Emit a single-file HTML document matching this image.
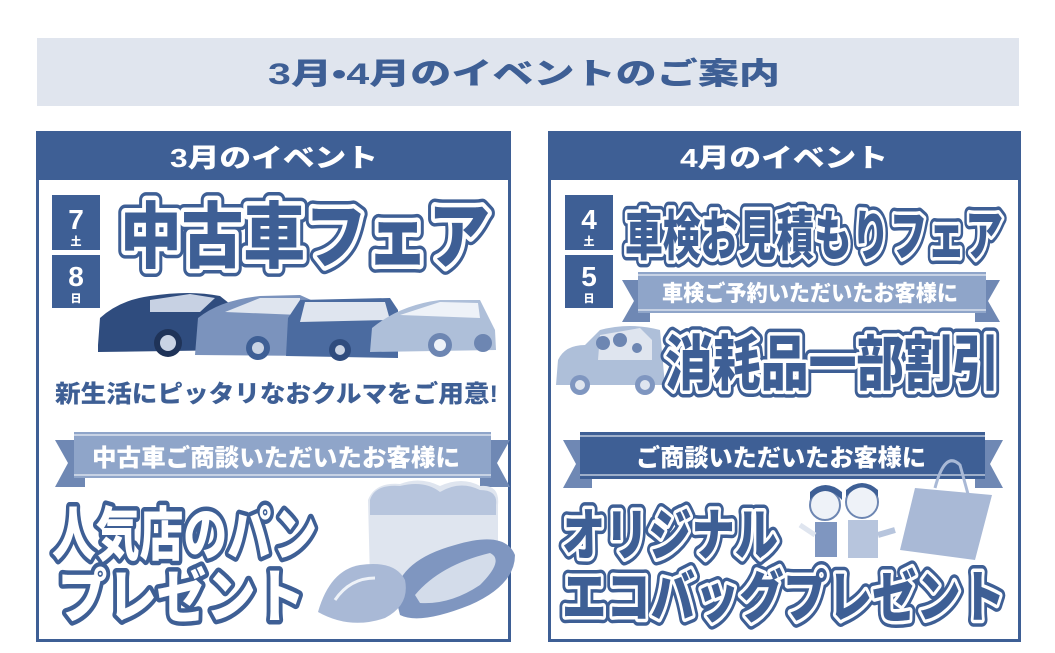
<!DOCTYPE html>
<html><head><meta charset="utf-8">
<style>
html,body{margin:0;padding:0;background:#fff;}
svg{display:block;}
text{font-family:"Liberation Sans","Noto Sans CJK JP",sans-serif;font-weight:900;}
</style></head>
<body>
<svg width="1055" height="653" viewBox="0 0 1055 653" xmlns="http://www.w3.org/2000/svg">
<rect x="37" y="38" width="982" height="68" fill="#e0e5ee"/>
<text x="268" y="84" font-size="30" fill="#3e5f95" textLength="512" lengthAdjust="spacingAndGlyphs">3月•4月のイベントのご案内</text>

<rect x="37.5" y="132.5" width="472" height="508" fill="#fff" stroke="#3e5f95" stroke-width="3"/>
<rect x="36" y="131" width="475" height="49" fill="#3e5f95"/>
<text x="170" y="167" font-size="26" fill="#fff" textLength="208" lengthAdjust="spacingAndGlyphs">3月のイベント</text>

<rect x="549.5" y="132.5" width="470" height="508" fill="#fff" stroke="#3e5f95" stroke-width="3"/>
<rect x="548" y="131" width="473" height="49" fill="#3e5f95"/>
<text x="680" y="167" font-size="26" fill="#fff" textLength="208" lengthAdjust="spacingAndGlyphs">4月のイベント</text>

<g fill="#3e5f95"><rect x="52" y="195" width="48" height="55"/><rect x="52" y="255" width="48" height="53"/>
<rect x="565" y="195" width="48" height="55"/><rect x="565" y="255" width="48" height="53"/></g>
<g fill="#fff" text-anchor="middle">
<text x="76" y="229" font-size="28">7</text><text x="76" y="245" font-size="11">土</text>
<text x="76" y="286" font-size="28">8</text><text x="76" y="302" font-size="11">日</text>
<text x="589" y="229" font-size="28">4</text><text x="589" y="245" font-size="11">土</text>
<text x="589" y="286" font-size="28">5</text><text x="589" y="302" font-size="11">日</text>
</g>

<g font-size="72">
<text x="120" y="262" textLength="370" lengthAdjust="spacingAndGlyphs" fill="#3e5f95" stroke="#3e5f95" stroke-width="16" stroke-linejoin="round">中古車フェア</text>
<text x="120" y="262" textLength="370" lengthAdjust="spacingAndGlyphs" fill="#fff" stroke="#fff" stroke-width="9" stroke-linejoin="round">中古車フェア</text>
<text x="120" y="262" textLength="370" lengthAdjust="spacingAndGlyphs" fill="#3e5f95">中古車フェア</text>
</g>

<g>
<path d="M98,345 L100,318 Q120,300 150,296 Q190,290 220,296 L240,312 L240,350 L98,352Z" fill="#2f4c7e"/>
<circle cx="168" cy="343" r="14" fill="#1f3358"/><circle cx="168" cy="343" r="8" fill="#c9d3e4"/>
<path d="M150,300 L190,294 L215,298 L200,312 L150,312Z" fill="#c7d1e3"/>
<path d="M195,355 L198,318 Q220,300 260,296 L300,295 L322,305 L322,356Z" fill="#7b93bd"/>
<path d="M225,312 L260,298 L300,298 L300,315Z" fill="#dfe5ef"/>
<circle cx="258" cy="348" r="12" fill="#3e5f95"/><circle cx="258" cy="348" r="6" fill="#c9d3e4"/>
<path d="M286,356 L288,318 L300,300 L390,298 L398,310 L398,358Z" fill="#4b6ba0"/>
<path d="M305,302 L385,302 L390,320 L300,322Z" fill="#dfe5ef"/>
<circle cx="340" cy="350" r="11" fill="#2f4c7e"/><circle cx="340" cy="350" r="5" fill="#c9d3e4"/>
<path d="M370,352 L372,328 Q400,305 440,300 L480,300 L495,330 L496,350Z" fill="#aebfd9"/>
<path d="M400,315 L440,302 L478,303 L480,318Z" fill="#eef2f8"/>
<circle cx="440" cy="345" r="12" fill="#6d86b2"/><circle cx="440" cy="345" r="6" fill="#eef2f8"/>
<circle cx="483" cy="343" r="9" fill="#6d86b2"/>
</g>

<text x="55" y="402" font-size="24" fill="#3e5f95" textLength="443" lengthAdjust="spacingAndGlyphs">新生活にピッタリなおクルマをご用意!</text>

<g>
<path d="M55,440 L85,440 L85,487 L55,487 L68,463Z" fill="#6f88b4"/>
<path d="M480,440 L510,440 L497,463 L510,487 L480,487Z" fill="#6f88b4"/>
<rect x="74" y="432" width="417" height="46" fill="#8fa5c9"/>
<line x1="74" y1="435" x2="491" y2="435" stroke="#fff" stroke-width="1"/>
<line x1="74" y1="475" x2="491" y2="475" stroke="#fff" stroke-width="1"/>
<text x="92" y="466" font-size="24" fill="#fff" textLength="368" lengthAdjust="spacingAndGlyphs">中古車ご商談いただいたお客様に</text>
</g>

<g>
<path d="M368,500 Q375,482 400,484 Q420,476 440,486 Q462,476 480,486 Q500,484 498,505 L498,580 L370,580Z" fill="#dfe5ef"/>
<path d="M370,500 Q375,484 400,486 Q425,480 440,492 Q460,480 480,490 Q498,490 496,505 L496,515 L370,515Z" fill="#b7c5dd"/>
<path d="M395,595 Q400,560 455,545 Q505,530 515,555 Q515,585 470,605 Q420,625 400,615Z" fill="#7f96c0"/>
<path d="M415,595 Q440,565 490,553 Q505,560 480,585 Q450,605 420,603Z" fill="#d3dcea"/>
<path d="M318,612 Q330,570 360,565 Q395,560 405,580 Q410,605 385,618 Q350,630 318,612Z" fill="#a9b9d6"/>
<path d="M335,600 Q350,578 375,578" stroke="#eef2f8" stroke-width="3" fill="none"/>
</g>

<g font-size="58" stroke-linejoin="round">
<text x="52" y="555" textLength="265" lengthAdjust="spacingAndGlyphs" fill="#3e5f95" stroke="#3e5f95" stroke-width="9">人気店のパン</text>
<text x="52" y="555" textLength="265" lengthAdjust="spacingAndGlyphs" fill="#fff">人気店のパン</text>
<text x="58" y="617" textLength="247" lengthAdjust="spacingAndGlyphs" fill="#3e5f95" stroke="#3e5f95" stroke-width="9">プレゼント</text>
<text x="58" y="617" textLength="247" lengthAdjust="spacingAndGlyphs" fill="#fff">プレゼント</text>
</g>

<g font-size="54" stroke-linejoin="round">
<text x="625" y="255" textLength="378" lengthAdjust="spacingAndGlyphs" fill="#3e5f95" stroke="#3e5f95" stroke-width="14">車検お見積もりフェア</text>
<text x="625" y="255" textLength="378" lengthAdjust="spacingAndGlyphs" fill="#fff" stroke="#fff" stroke-width="7">車検お見積もりフェア</text>
<text x="625" y="255" textLength="378" lengthAdjust="spacingAndGlyphs" fill="#3e5f95">車検お見積もりフェア</text>
</g>

<g>
<path d="M622,280 L650,280 L650,322 L622,322 L634,301Z" fill="#6f88b4"/>
<path d="M975,280 L1000,280 L988,301 L1000,322 L975,322Z" fill="#6f88b4"/>
<rect x="638" y="272" width="348" height="41" fill="#8fa5c9"/>
<line x1="638" y1="275" x2="986" y2="275" stroke="#fff"/>
<line x1="638" y1="310" x2="986" y2="310" stroke="#fff"/>
<text x="662" y="301" font-size="22" fill="#fff" textLength="296" lengthAdjust="spacingAndGlyphs">車検ご予約いただいたお客様に</text>
</g>

<g>
<path d="M556,385 L558,360 Q565,345 585,345 L600,330 Q630,322 660,330 L665,385Z" fill="#aebfd9"/>
<path d="M600,335 L640,328 L652,340 L652,360 L598,360Z" fill="#dfe5ef"/>
<circle cx="603" cy="343" r="7" fill="#6d86b2"/><circle cx="620" cy="340" r="7" fill="#6d86b2"/><circle cx="637" cy="348" r="5" fill="#6d86b2"/>
<circle cx="580" cy="385" r="10" fill="#7f96c0"/><circle cx="580" cy="385" r="5" fill="#dfe5ef"/>
<circle cx="645" cy="385" r="10" fill="#7f96c0"/><circle cx="645" cy="385" r="5" fill="#dfe5ef"/>
</g>

<g font-size="60" stroke-linejoin="round">
<text x="665" y="385" textLength="335" lengthAdjust="spacingAndGlyphs" fill="#3e5f95" stroke="#3e5f95" stroke-width="14">消耗品一部割引</text>
<text x="665" y="385" textLength="335" lengthAdjust="spacingAndGlyphs" fill="#fff" stroke="#fff" stroke-width="7">消耗品一部割引</text>
<text x="665" y="385" textLength="335" lengthAdjust="spacingAndGlyphs" fill="#3e5f95">消耗品一部割引</text>
</g>

<g>
<path d="M563,440 L592,440 L592,488 L563,488 L576,464Z" fill="#6f88b4"/>
<path d="M975,440 L1003,440 L990,464 L1003,488 L975,488Z" fill="#6f88b4"/>
<rect x="580" y="432" width="405" height="47" fill="#3e5f95"/>
<line x1="580" y1="436" x2="985" y2="436" stroke="#fff"/>
<line x1="580" y1="475" x2="985" y2="475" stroke="#fff"/>
<text x="636" y="466" font-size="24" fill="#fff" textLength="290" lengthAdjust="spacingAndGlyphs">ご商談いただいたお客様に</text>
</g>

<path d="M915,488 L992,495 L975,560 L900,550Z" fill="#a9b9d6"/>
<path d="M935,488 Q945,450 960,465 L968,494" stroke="#a9b9d6" stroke-width="3" fill="none"/>

<g>
<circle cx="825" cy="505" r="15" fill="#eef2f8" stroke="#6d86b2" stroke-width="2"/>
<path d="M810,500 Q825,482 842,500 L842,492 Q825,478 810,492Z" fill="#3e5f95"/>
<rect x="815" y="522" width="22" height="35" fill="#7f96c0"/>
<circle cx="862" cy="502" r="16" fill="#eef2f8" stroke="#6d86b2" stroke-width="2"/>
<path d="M846,497 Q862,478 878,497 L878,490 Q862,476 846,490Z" fill="#3e5f95"/>
<rect x="848" y="520" width="30" height="38" fill="#b7c5dd"/>
<path d="M878,535 L895,530" stroke="#b7c5dd" stroke-width="6"/>
<path d="M815,535 L800,525" stroke="#dfe5ef" stroke-width="5"/>
</g>

<g font-size="56" stroke-linejoin="round">
<text x="562" y="555" textLength="216" lengthAdjust="spacingAndGlyphs" fill="#3e5f95" stroke="#3e5f95" stroke-width="14">オリジナル</text>
<text x="562" y="555" textLength="216" lengthAdjust="spacingAndGlyphs" fill="#fff" stroke="#fff" stroke-width="7">オリジナル</text>
<text x="562" y="555" textLength="216" lengthAdjust="spacingAndGlyphs" fill="#3e5f95">オリジナル</text>
<text x="562" y="617" textLength="443" lengthAdjust="spacingAndGlyphs" fill="#3e5f95" stroke="#3e5f95" stroke-width="14">エコバッグプレゼント</text>
<text x="562" y="617" textLength="443" lengthAdjust="spacingAndGlyphs" fill="#fff" stroke="#fff" stroke-width="7">エコバッグプレゼント</text>
<text x="562" y="617" textLength="443" lengthAdjust="spacingAndGlyphs" fill="#3e5f95">エコバッグプレゼント</text>
</g>
</svg>
</body></html>
